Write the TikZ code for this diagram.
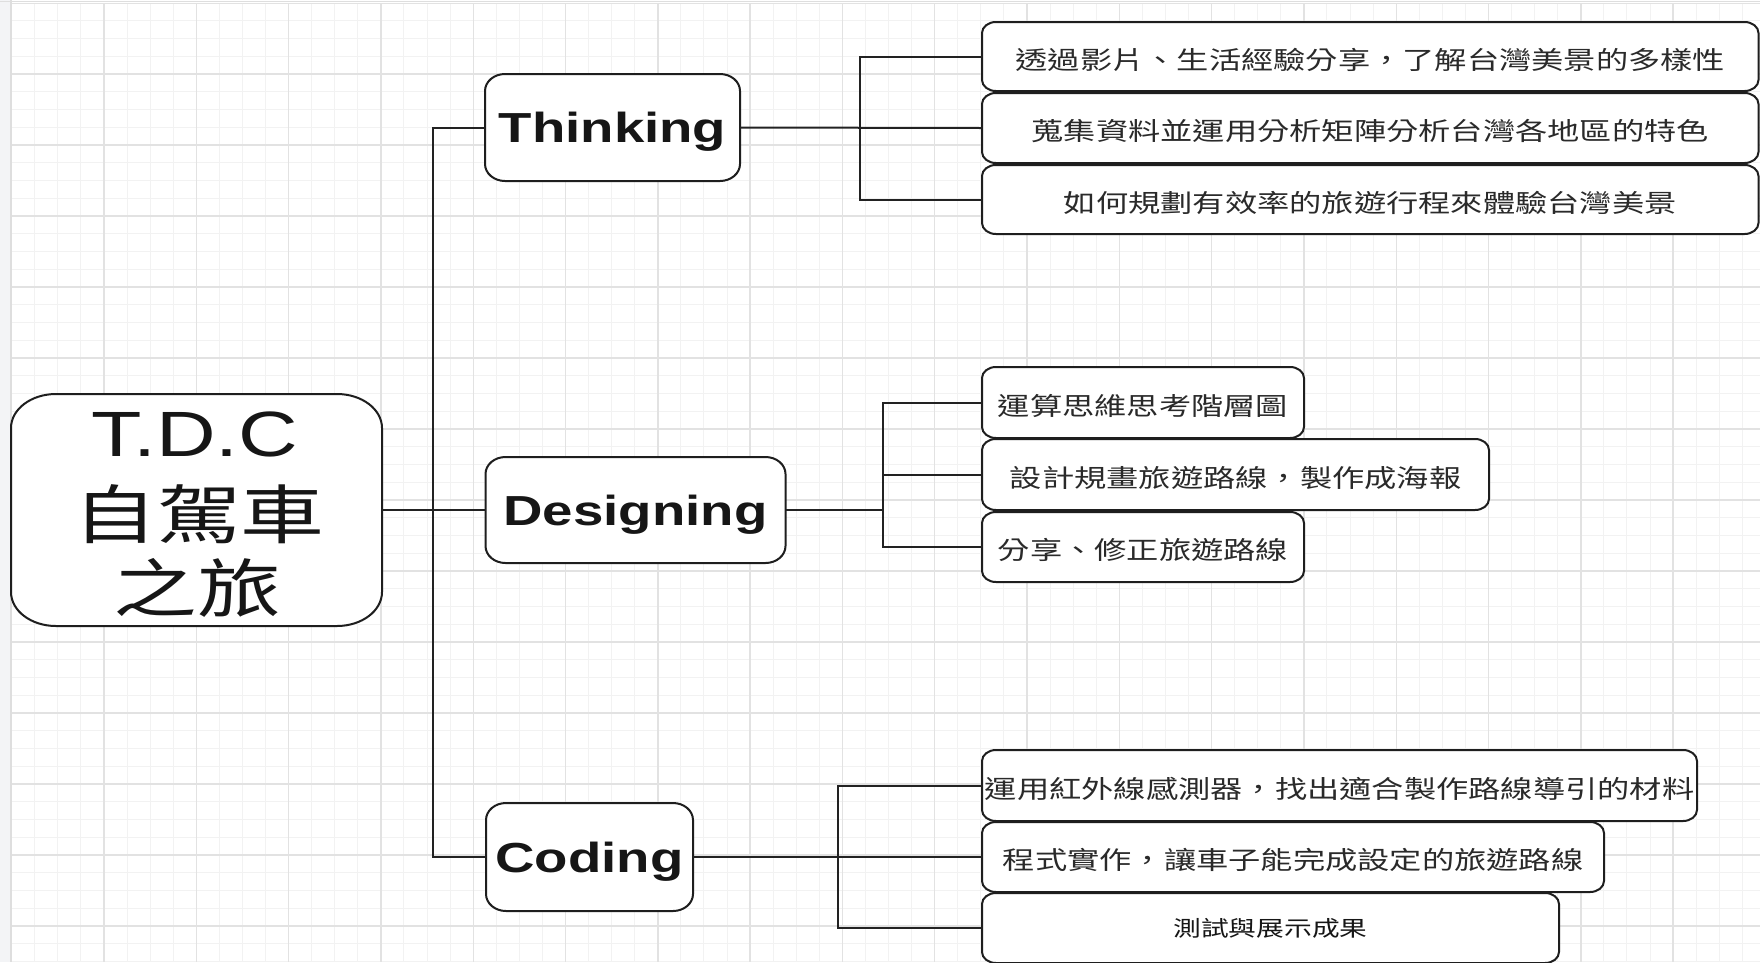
\documentclass[tikz,border=0pt]{standalone}
\usepackage{fontspec}
\newfontfamily\labfont[FakeStretch=1.3]{Liberation Sans}
\newfontfamily\cjkfont[FakeStretch=1.29]{Noto Sans CJK TC}
\newfontfamily\rootlatfont[FakeStretch=1.29]{Liberation Sans}
\newfontfamily\rootcjkfont[FakeStretch=1.31]{Noto Sans CJK TC}
\pgfdeclarelayer{gridlayer}
\pgfdeclarelayer{boxlayer}
\pgfsetlayers{gridlayer,boxlayer,main}
\definecolor{gminorc}{HTML}{F2F2F2}
\definecolor{gmajorc}{HTML}{E2E2E2}
\definecolor{linec}{HTML}{222222}
\definecolor{boxc}{HTML}{1E1E1E}
\definecolor{stripc}{HTML}{F3F4F6}
\definecolor{borderc}{HTML}{DEDEDE}
\definecolor{textc}{HTML}{161616}
\definecolor{leaftextc}{HTML}{2A2A2A}
\newcommand\eroundbox[3]{%
  \path[boxline] ([xshift=#2pt]#1.north west) -- ([xshift=-#2pt]#1.north east)
    arc[start angle=90,end angle=0,x radius=#2pt,y radius=#3pt]
    -- ([yshift=#3pt]#1.south east)
    arc[start angle=0,end angle=-90,x radius=#2pt,y radius=#3pt]
    -- ([xshift=#2pt]#1.south west)
    arc[start angle=270,end angle=180,x radius=#2pt,y radius=#3pt]
    -- ([yshift=-#3pt]#1.north west)
    arc[start angle=180,end angle=90,x radius=#2pt,y radius=#3pt] -- cycle;}
\begin{document}
\begin{tikzpicture}[x=1pt,y=1pt,
  holder/.style={draw=none, inner sep=0pt, outer sep=0pt, text=textc},
  mainlab/.style={holder, font=\labfont\bfseries\fontsize{42}{50}\selectfont, text height=30pt, text depth=0pt},
  leaf/.style={holder, text=leaftextc, font=\cjkfont\fontsize{25}{30}\selectfont, text height=28pt, text depth=3pt},
  smallleaf/.style={holder, text=textc, font=\cjkfont\fontsize{21.5}{26}\selectfont, text height=19.4pt, text depth=3pt},
  rootline/.style={inner sep=0pt, outer sep=0pt, anchor=base, text=textc},
  boxline/.style={draw=boxc, line width=2pt, fill=white},
  conn/.style={draw=linec, line width=2pt},
  gminor/.style={draw=gminorc, line width=1pt},
  gmajor/.style={draw=gmajorc, line width=1.4pt}]
\useasboundingbox (0,0) rectangle (1760,-962);

% root
\node[holder, minimum width=371pt, minimum height=232pt] (root) at (196.5,-510) {};
\node[rootline, font=\rootlatfont\fontsize{64}{64}\selectfont] (rootA) at (195,-456) {T.D.C};
\node[rootline, font=\rootcjkfont\fontsize{64}{64}\selectfont] (rootB) at (199,-538) {自駕車};
\node[rootline, font=\rootcjkfont\fontsize{64}{64}\selectfont] (rootC) at (197,-612.5) {之旅};

% main branches
\node[mainlab, minimum width=255pt, minimum height=107pt] (thinking) at (612.5,-127.5) {Thinking};
\node[mainlab, minimum width=300pt, minimum height=106pt] (designing) at (635.5,-510) {Designing};
\node[mainlab, minimum width=207pt, minimum height=108pt] (coding) at (589.5,-857) {Coding};

% leaves
\node[leaf, minimum width=776.5pt, minimum height=69pt] (t1) at (1370.25,-56.5) {透過影片、生活經驗分享，了解台灣美景的多樣性};
\node[leaf, minimum width=776.5pt, minimum height=70pt] (t2) at (1370.25,-128) {蒐集資料並運用分析矩陣分析台灣各地區的特色};
\node[leaf, minimum width=776.5pt, minimum height=69pt] (t3) at (1370.25,-199.5) {如何規劃有效率的旅遊行程來體驗台灣美景};
\node[leaf, minimum width=322pt, minimum height=71pt] (d1) at (1143,-402.5) {運算思維思考階層圖};
\node[leaf, minimum width=507pt, minimum height=71pt] (d2) at (1235.5,-474.5) {設計規畫旅遊路線，製作成海報};
\node[leaf, minimum width=322pt, minimum height=70pt] (d3) at (1143,-547) {分享、修正旅遊路線};
\node[leaf, minimum width=715pt, minimum height=71pt] (c1) at (1339.5,-785.5) {運用紅外線感測器，找出適合製作路線導引的材料};
\node[leaf, minimum width=622pt, minimum height=70pt] (c2) at (1293,-857) {程式實作，讓車子能完成設定的旅遊路線};
\node[smallleaf, minimum width=577pt, minimum height=70pt] (c3) at (1270.5,-928) {測試與展示成果};

% connectors
\coordinate (rj) at (433,-510);
\draw[conn] (root.east) -- (designing.west);
\draw[conn] (thinking.west) -| (rj) |- (coding.west);

\coordinate (tj) at (860,-127.5);
\draw[conn] (thinking.east) -- (t2.west);
\draw[conn] (t1.west) -| (tj) |- (t3.west);

\coordinate (dj) at (883,-510);
\draw[conn] (designing.east) -- (dj);
\draw[conn] (d1.west) -| (dj) |- (d3.west);
\draw[conn] (dj |- d2.west) -- (d2.west);

\coordinate (cj) at (838,-857);
\draw[conn] (coding.east) -- (c2.west);
\draw[conn] (c1.west) -| (cj) |- (c3.west);

% box outlines
\begin{pgfonlayer}{boxlayer}
\eroundbox{root}{45}{34}
\foreach \n in {thinking,designing,coding} {\eroundbox{\n}{20}{17}}
\foreach \n in {t1,t2,t3,d1,d2,d3,c1,c2,c3} {\eroundbox{\n}{14}{11}}
\end{pgfonlayer}

% grid background
\begin{pgfonlayer}{gridlayer}
\fill[white] (0,0) rectangle (1760,-962);
\begin{scope}
\clip (11.7,-3) rectangle (1760,-962);
\foreach \i in {0,...,76} \draw[gminor] ({11.7+23.075*\i},0) -- ({11.7+23.075*\i},-962);
\foreach \j in {0,...,54} \draw[gminor] (0,{-3-17.75*\j}) -- (1760,{-3-17.75*\j});
\foreach \i in {0,4,...,76} \draw[gmajor] ({11.7+23.075*\i},0) -- ({11.7+23.075*\i},-962);
\foreach \j in {0,4,...,52} \draw[gmajor] (0,{-3-17.75*\j}) -- (1760,{-3-17.75*\j});
\end{scope}
\fill[stripc] (0,0) rectangle (10.5,-962);
\draw[borderc, line width=1.2pt] (11,0) -- (11,-962);
\draw[borderc, line width=1.5pt] (0,-1.5) -- (1760,-1.5);
\end{pgfonlayer}
\end{tikzpicture}
\end{document}
